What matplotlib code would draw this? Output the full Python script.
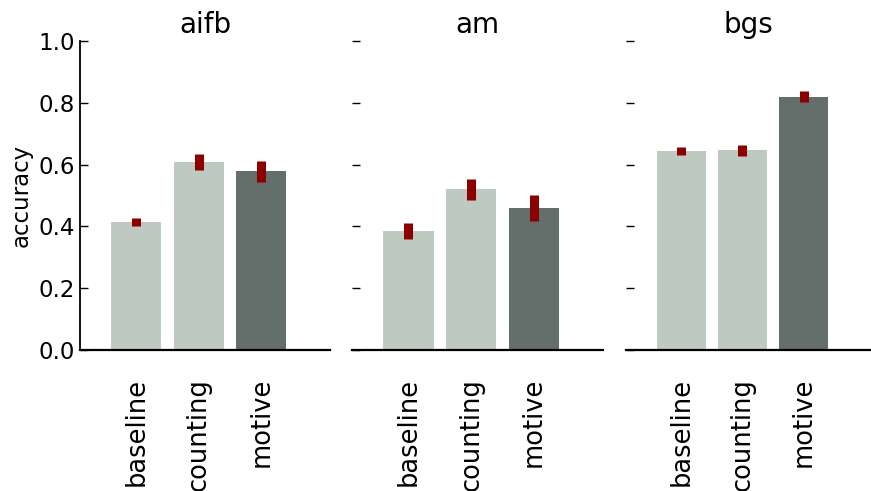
import matplotlib
matplotlib.use("Agg")
import matplotlib.pyplot as plt

datasets = ["aifb", "am", "bgs"]
methods = ["baseline", "counting", "motive"]

# mean accuracy per dataset, one value per method
acc_aifb = [0.414, 0.608, 0.579]
acc_am = [0.385, 0.520, 0.460]
acc_bgs = [0.644, 0.647, 0.819]

# error (half-height of the red marks)
err_aifb = [0.012, 0.025, 0.034]
err_am = [0.026, 0.033, 0.043]
err_bgs = [0.014, 0.018, 0.018]

light = "#bec9c1"
dark = "#646e6a"
colors = [light, light, dark]

fig, axes = plt.subplots(1, 3, figsize=(8.71, 4.91), dpi=100, sharey=True)
W, H = 871.0, 491.0
lefts = [80, 352, 626]
rights = [330, 603, 871]
for ax, l, r in zip(axes, lefts, rights):
    ax.set_position([l / W, 1 - 350 / H, (r - l) / W, 309 / H])

x = range(len(methods))
for ax, name, acc, err in zip(axes, datasets, [acc_aifb, acc_am, acc_bgs],
                              [err_aifb, err_am, err_bgs]):
    ax.bar(x, acc, width=0.8, color=colors, linewidth=0)
    ax.errorbar(x, acc, yerr=err, fmt="none", ecolor="darkred",
                elinewidth=6.5, capsize=0)
    ax.set_title(name, fontsize=20, pad=6)
    ax.set_xlim(-0.9, 3.1)
    ax.set_ylim(0, 1.0)
    ax.set_xticks(list(x))
    ax.set_xticklabels(methods, rotation=90, fontsize=18.5)
    ax.tick_params(axis="x", length=0, pad=20)
    ax.tick_params(axis="y", direction="in", length=6, width=1, labelsize=16.5)
    ax.spines["top"].set_visible(False)
    ax.spines["right"].set_visible(False)
    ax.spines["bottom"].set_linewidth(1.6)
    ax.spines["left"].set_linewidth(1.3)
    if ax is not axes[0]:
        ax.spines["left"].set_visible(False)
        ax.tick_params(axis="y", labelleft=False)

axes[0].set_yticks([0.0, 0.2, 0.4, 0.6, 0.8, 1.0])
axes[0].set_ylabel("accuracy", fontsize=16.5)

fig.savefig("out.png", dpi=100)
